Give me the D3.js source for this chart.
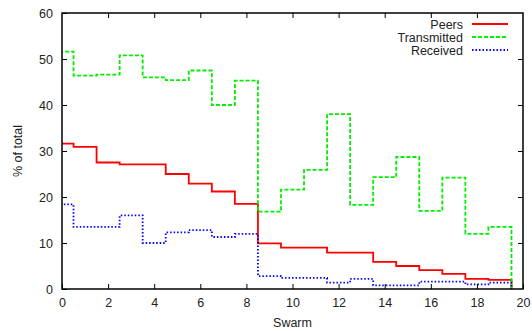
<!DOCTYPE html>
<html>
<head>
<meta charset="utf-8">
<script src="https://cdn.jsdelivr.net/npm/d3@7"></script>
<style>
  body { margin: 0; background: #fff; }
  text { font-family: "Liberation Sans", Arial, sans-serif; font-size: 12.5px; fill: #222; }
</style>
</head>
<body>
<svg id="chart" width="532" height="331"></svg>
<script>
// swarm index and % of total per series
var swarms = [0,1,2,3,4,5,6,7,8,9,10,11,12,13,14,15,16,17,18,19];
var peers = [31.6,30.9,27.5,27.1,27.1,25.0,22.9,21.2,18.5,9.9,9.0,9.0,7.9,7.9,5.9,5.0,4.1,3.3,2.2,2.0];
var transmitted = [51.6,46.4,46.6,50.8,46.0,45.4,47.5,40.0,45.3,16.8,21.6,25.9,38.0,18.3,24.3,28.7,17.0,24.2,12.0,13.5];
var received = [18.4,13.5,13.5,16.0,10.0,12.3,12.8,11.3,12.0,2.8,2.4,2.4,1.4,2.2,0.8,0.8,1.6,1.6,1.0,1.4];
var xTicks = [0,2,4,6,8,10,12,14,16,18,20];
var yTicks = [0,10,20,30,40,50,60];

var seriesNames = ["Peers","Transmitted","Received"];
var seriesData = [peers, transmitted, received];

const mLeft = 62, mRight = 523, mTop = 13, mBottom = 289;
const tickLen = 5;

var svg = d3.select("#chart");

var x = d3.scaleLinear().domain([0,20]).range([mLeft,mRight]);
var y = d3.scaleLinear().domain([0,60]).range([mBottom,mTop]);

var styles = [
  {color: "#ff0000", dash: null, width: 1.8},
  {color: "#00ee00", dash: "4,2", width: 1.8},
  {color: "#0000ff", dash: "1.5,2", width: 1.8}
];

svg.append("clipPath").attr("id","plotclip")
  .append("rect").attr("x",mLeft).attr("y",mTop).attr("width",mRight-mLeft).attr("height",mBottom-mTop);

// gnuplot "histeps": steps change halfway between points, drop to 0 at the ends
var histeps = function(xs, vals) {
  var p = d3.path();
  var half = 0.5;
  p.moveTo(x(xs[0]-half), y(0));
  p.lineTo(x(xs[0]-half), y(vals[0]));
  for (var i = 0; i < xs.length; i++) {
    var x1 = (i < xs.length-1) ? (xs[i]+xs[i+1])/2 : xs[i]+half;
    p.lineTo(x(x1), y(vals[i]));
    if (i < xs.length-1) p.lineTo(x(x1), y(vals[i+1]));
  }
  p.lineTo(x(xs[xs.length-1]+half), y(0));
  return p.toString();
};

var plot = svg.append("g").attr("clip-path","url(#plotclip)");
seriesData.forEach(function(vals, i) {
  plot.append("path")
    .attr("d", histeps(swarms, vals))
    .attr("fill","none")
    .attr("stroke", styles[i].color)
    .attr("stroke-width", styles[i].width)
    .attr("stroke-dasharray", styles[i].dash);
});

// axes: ticks inward, mirrored on top and right
var xAxis = d3.axisBottom(x).tickValues(xTicks).tickSizeInner(-tickLen).tickSizeOuter(0).tickPadding(9);
var yAxis = d3.axisLeft(y).tickValues(yTicks).tickSizeInner(-tickLen).tickSizeOuter(0).tickPadding(9);

svg.append("g").attr("transform","translate(0,"+mBottom+")").call(xAxis);
svg.append("g").attr("transform","translate("+mLeft+",0)").call(yAxis);
svg.append("g").attr("transform","translate(0,"+mTop+")")
  .call(d3.axisTop(x).tickValues(xTicks.slice(1,-1)).tickSizeInner(-tickLen).tickSizeOuter(0).tickFormat(""));
svg.append("g").attr("transform","translate("+mRight+",0)")
  .call(d3.axisRight(y).tickValues(yTicks.slice(1,-1)).tickSizeInner(-tickLen).tickSizeOuter(0).tickFormat(""));

svg.selectAll(".domain").remove();
svg.selectAll(".tick line").attr("stroke","#000").attr("stroke-width",1);
svg.selectAll(".tick text").style("font-size","12.5px").attr("fill","#222");

svg.append("rect")
  .attr("x",mLeft).attr("y",mTop).attr("width",mRight-mLeft).attr("height",mBottom-mTop)
  .attr("fill","none").attr("stroke","#000").attr("stroke-width",1.5);

// axis labels
svg.append("text")
  .attr("x", (mLeft+mRight)/2).attr("y", 327)
  .attr("text-anchor","middle")
  .text("Swarm");

svg.append("text")
  .attr("transform","translate(22,"+((mTop+mBottom)/2)+") rotate(-90)")
  .attr("text-anchor","middle")
  .text("% of total");

// legend
var legend = svg.append("g");
seriesNames.forEach(function(name, i) {
  var ly = 24 + i*13;
  legend.append("text")
    .attr("x",463).attr("y",ly+4.5)
    .attr("text-anchor","end")
    .text(name);
  legend.append("line")
    .attr("x1",472).attr("x2",508).attr("y1",ly).attr("y2",ly)
    .attr("stroke",styles[i].color)
    .attr("stroke-width",styles[i].width)
    .attr("stroke-dasharray",styles[i].dash);
});
</script>
</body>
</html>
